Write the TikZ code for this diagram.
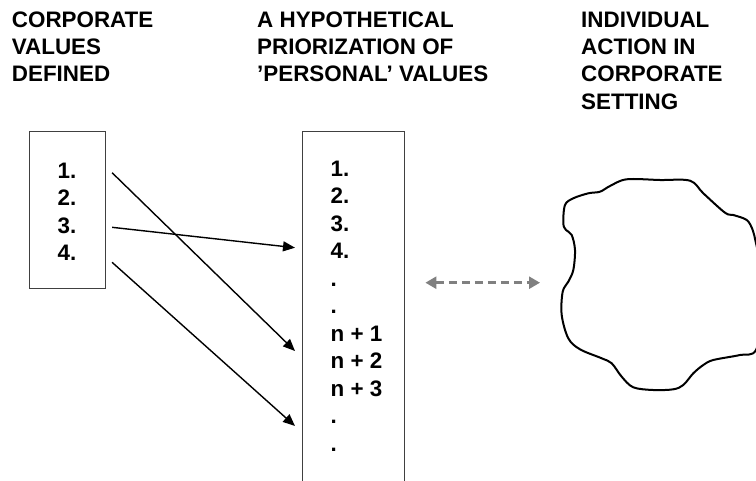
\documentclass[tikz,border=0pt]{standalone}
\usepackage{fontspec}
\setmainfont{Liberation Sans}
\usetikzlibrary{arrows.meta,calc}

\begin{document}
\begin{tikzpicture}[x=1pt,y=-1pt,
    heading/.style={anchor=north west,inner sep=0pt,align=left,font=\bfseries\fontsize{22.4}{27.3}\selectfont},
    entry/.style={anchor=base west,inner sep=0pt,text height=16pt,text depth=0pt,font=\bfseries\fontsize{22.4}{25}\selectfont},
    box/.style={draw=black!75,line width=0.8pt,inner sep=0pt},
    link/.style={line width=1.4pt,-{Triangle[length=12pt,width=10pt]}},
    relation/.style={color=black!50,line width=2.5pt,dash pattern=on 8pt off 5pt,
        {Triangle[length=11pt,width=12pt]}-{Triangle[length=11pt,width=12pt]}},
    cloud/.style={line width=2pt,line join=round}]

\clip (0,0) rectangle (756,480);

\node[heading] (corphead) at (11.7,11.5) {CORPORATE\\VALUES\\DEFINED};
\node[heading] (pershead) at (257,11.5) {A HYPOTHETICAL\\PRIORIZATION OF\\'PERSONAL' VALUES};
\node[heading] (acthead) at (581,11.5) {INDIVIDUAL\\ACTION IN\\CORPORATE\\SETTING};

\node[box,minimum width=75.5pt,minimum height=157.5pt] (corpbox) at (67.25,209.75) {};
\node[box,minimum width=102pt,minimum height=400pt] (persbox) at (353,331) {};

\node[entry] (c1) at (57.5,178) {1.};
\node[entry] (c2) at (57.5,205.5) {2.};
\node[entry] (c3) at (57.5,233) {3.};
\node[entry] (c4) at (57.5,260.5) {4.};

\node[entry] (p1) at (330.5,176) {1.};
\node[entry] (p2) at (330.5,203.5) {2.};
\node[entry] (p3) at (330.5,231) {3.};
\node[entry] (p4) at (330.5,258.5) {4.};
\node[entry] (p5) at (330.5,286) {.};
\node[entry] (p6) at (330.5,313.5) {.};
\node[entry] (p7) at (330.5,341) {n + 1};
\node[entry] (p8) at (330.5,368.5) {n + 2};
\node[entry] (p9) at (330.5,396) {n + 3};
\node[entry] (p10) at (330.5,423.5) {.};
\node[entry] (p11) at (330.5,451) {.};

\draw[link] ([xshift=35.5pt,yshift=-2.7pt]c1.east) -- ([xshift=-35.5pt,yshift=9.5pt]p8.west);
\draw[link] ([xshift=35.5pt,yshift=-2.3pt]c3.east) -- ([xshift=-35.5pt,yshift=2.8pt]p4.west);
\draw[link] ([xshift=35.5pt,yshift=-9.8pt]c4.east) -- ([xshift=-35.5pt,yshift=-10.5pt]p10.west);

\draw[cloud] plot[smooth cycle,tension=0.55] coordinates {
    (626.7,179.3) (660,180) (690,180.7) (703.3,193.3) (725,212.7) (733.3,215)
    (746.7,220) (752.7,230) (756,243.3) (763,275) (764,310) (756,350)
    (740,355) (713.3,360) (703.3,365) (693.3,373.3) (683.3,385) (673.3,389.3)
    (653.3,390) (633.3,387.3) (621.7,376.7) (611.7,363.3) (601.7,358.3) (580,349.3)
    (568.3,338.3) (561.7,315) (562.7,291.7) (568.3,281.7) (573.3,270) (575,250)
    (571.7,235) (566,230) (563.3,223.3) (565,205) (573.3,198.3) (588.3,193.3)
    (600,191.7) (610,186)};
\coordinate (cloudwest) at (561.7,282.7);

\draw[relation] ($(persbox.east |- cloudwest)+(21,0)$) -- ($(cloudwest)+(-21.7,0)$);
\end{tikzpicture}
\end{document}
